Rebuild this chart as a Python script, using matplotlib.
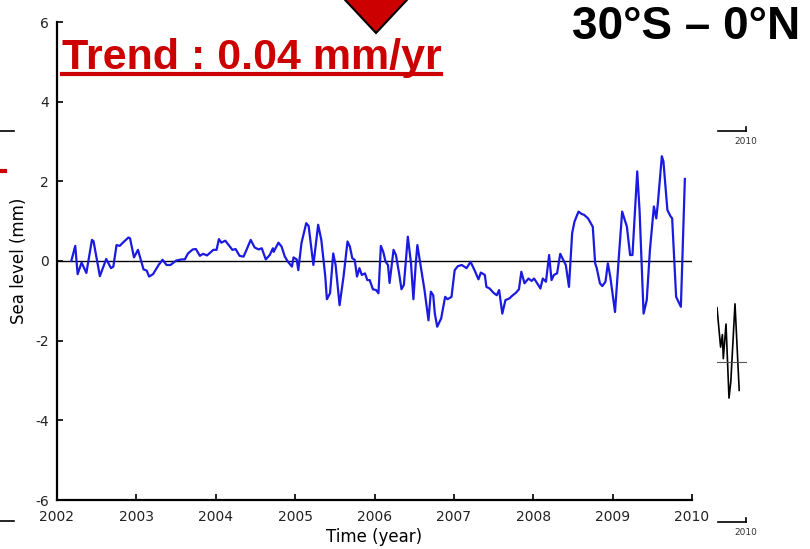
import numpy as np
import matplotlib
matplotlib.use('Agg')
import matplotlib.pyplot as plt
from matplotlib.lines import Line2D
from matplotlib.patches import Polygon

plt.rcParams['axes.unicode_minus'] = False

# sea level anomaly, 30S - 0N
years = [2002.18, 2002.23, 2002.26, 2002.31, 2002.37, 2002.44, 2002.46, 2002.54, 2002.62, 2002.68,
         2002.71, 2002.75, 2002.79, 2002.83, 2002.90, 2002.92, 2002.97, 2003.02, 2003.09, 2003.13,
         2003.16, 2003.21, 2003.28, 2003.33, 2003.38, 2003.43, 2003.50, 2003.57, 2003.61, 2003.65,
         2003.71, 2003.75, 2003.80, 2003.84, 2003.89, 2003.97, 2004.01, 2004.04, 2004.07, 2004.12,
         2004.21, 2004.25, 2004.30, 2004.35, 2004.39, 2004.44, 2004.49, 2004.54, 2004.58, 2004.63,
         2004.68, 2004.72, 2004.73, 2004.79, 2004.83, 2004.87, 2004.91, 2004.96, 2004.98, 2005.02,
         2005.04, 2005.08, 2005.14, 2005.17, 2005.23, 2005.29, 2005.33, 2005.38, 2005.40, 2005.44,
         2005.48, 2005.51, 2005.56, 2005.61, 2005.66, 2005.69, 2005.72, 2005.75, 2005.78, 2005.81,
         2005.84, 2005.88, 2005.91, 2005.94, 2005.98, 2006.02, 2006.05, 2006.08, 2006.11, 2006.14,
         2006.17, 2006.19, 2006.24, 2006.27, 2006.31, 2006.34, 2006.37, 2006.42, 2006.46, 2006.49,
         2006.52, 2006.54, 2006.59, 2006.63, 2006.68, 2006.71, 2006.74, 2006.76, 2006.79, 2006.84,
         2006.89, 2006.92, 2006.97, 2007.01, 2007.05, 2007.10, 2007.16, 2007.21, 2007.26, 2007.31,
         2007.34, 2007.39, 2007.41, 2007.45, 2007.50, 2007.54, 2007.57, 2007.61, 2007.65, 2007.70,
         2007.73, 2007.78, 2007.82, 2007.85, 2007.89, 2007.94, 2007.98, 2008.01, 2008.05, 2008.09,
         2008.12, 2008.16, 2008.20, 2008.23, 2008.26, 2008.30, 2008.34, 2008.39, 2008.41, 2008.45,
         2008.49, 2008.52, 2008.57, 2008.61, 2008.64, 2008.69, 2008.75, 2008.78, 2008.80, 2008.84,
         2008.87, 2008.91, 2008.94, 2008.97, 2009.03, 2009.08, 2009.12, 2009.18, 2009.22, 2009.25,
         2009.31, 2009.34, 2009.39, 2009.43, 2009.47, 2009.52, 2009.55, 2009.57, 2009.62, 2009.64,
         2009.69, 2009.73, 2009.75, 2009.80, 2009.86, 2009.91]
sea_level = [0.00, 0.38, -0.33, -0.04, -0.30, 0.53, 0.50, -0.38, 0.05, -0.18,
             -0.14, 0.40, 0.38, 0.46, 0.59, 0.57, 0.09, 0.28, -0.21, -0.24,
             -0.39, -0.33, -0.10, 0.03, -0.10, -0.10, 0.01, 0.04, 0.04, 0.19,
             0.29, 0.30, 0.13, 0.18, 0.14, 0.28, 0.28, 0.55, 0.46, 0.51,
             0.28, 0.30, 0.13, 0.11, 0.29, 0.53, 0.34, 0.29, 0.32, 0.04,
             0.15, 0.32, 0.23, 0.46, 0.36, 0.11, -0.02, -0.14, 0.09, 0.04,
             -0.23, 0.45, 0.95, 0.88, -0.10, 0.91, 0.53, -0.39, -0.96, -0.81,
             0.19, -0.10, -1.11, -0.39, 0.49, 0.36, 0.07, 0.03, -0.39, -0.18,
             -0.35, -0.31, -0.48, -0.48, -0.71, -0.73, -0.81, 0.38, 0.23, -0.02,
             -0.10, -0.55, 0.28, 0.15, -0.31, -0.71, -0.60, 0.61, -0.06, -0.96,
             -0.06, 0.40, -0.23, -0.73, -1.49, -0.77, -0.86, -1.32, -1.65, -1.44,
             -0.90, -0.96, -0.90, -0.23, -0.13, -0.10, -0.18, -0.02, -0.23, -0.46,
             -0.29, -0.35, -0.65, -0.69, -0.80, -0.86, -0.73, -1.32, -0.98, -0.94,
             -0.88, -0.80, -0.71, -0.27, -0.56, -0.44, -0.50, -0.44, -0.56, -0.69,
             -0.44, -0.52, 0.15, -0.48, -0.35, -0.31, 0.18, -0.02, -0.10, -0.65,
             0.70, 0.99, 1.24, 1.18, 1.16, 1.07, 0.86, -0.06, -0.18, -0.56,
             -0.63, -0.52, -0.06, -0.39, -1.28, 0.15, 1.24, 0.86, 0.15, 0.15,
             2.25, 1.24, -1.32, -0.98, 0.28, 1.37, 1.07, 1.45, 2.63, 2.50,
             1.28, 1.12, 1.07, -0.90, -1.15, 2.06]

xticks = [2002, 2003, 2004, 2005, 2006, 2007, 2008, 2009, 2010]
yticks = [-6, -4, -2, 0, 2, 4, 6]

# bit of the neighbouring panel visible on the right edge
frag_x = [0.0, 0.12, 0.18, 0.21, 0.30, 0.40, 0.46, 0.60, 0.74]
frag_y = [0.94, 0.53, 0.66, 0.41, 0.77, 0.00, 0.17, 0.98, 0.08]

W, H = 810, 549
fig = plt.figure(figsize=(W / 100, H / 100), dpi=100)
narrow = ['Liberation Sans Narrow', 'Liberation Sans']

ax = fig.add_axes([57 / W, 1 - 500 / H, 635 / W, 478 / H])
ax.plot(years, sea_level, color='#1a1ae0', lw=1.6, zorder=3)
ax.axhline(0, color='black', lw=1.0, zorder=2)
ax.set_xlim(2002, 2010)
ax.set_ylim(-6, 6)
ax.set_xticks(xticks)
ax.set_yticks(yticks)
for s in ['top', 'right']:
    ax.spines[s].set_visible(False)
for s in ['left', 'bottom']:
    ax.spines[s].set_linewidth(1.6)
ax.tick_params(direction='in', length=4, width=1.4, labelsize=10, colors='#222222')
ax.tick_params(axis='x', pad=7)
ax.tick_params(axis='y', pad=6)
ax.set_xlabel('Time (year)', fontsize=12, labelpad=3)
ax.set_ylabel('Sea level (mm)', fontsize=12, labelpad=5)

# annotations from the slide
fig.text(62 / W, 1 - 69 / H, 'Trend : 0.04 mm/yr', color='#cc0000', fontsize=31,
         fontweight='bold', family=narrow, ha='left', va='baseline')
fig.add_artist(Line2D([62 / W, 441 / W], [1 - 74 / H, 1 - 74 / H], color='#cc0000', lw=3))
fig.text(800 / W, 1 - 27 / H, '30°S – 0°N', color='black', fontsize=33,
         fontweight='bold', family=narrow, ha='right', va='center')
tri = Polygon([(340 / W, 1.01), (412 / W, 1.01), (376 / W, 1 - 33 / H)], closed=True,
              facecolor='#cc0000', edgecolor='black', lw=1.5, transform=fig.transFigure)
fig.add_artist(tri)

# right edge fragments
ax2 = fig.add_axes([717 / W, 1 - 400 / H, 30 / W, 100 / H])
ax2.plot(frag_x, frag_y, color='black', lw=1.2)
ax2.axhline(0.37, color='#555555', lw=0.8)
ax2.set_xlim(0, 1)
ax2.set_ylim(-0.02, 1.02)
ax2.axis('off')
for yy in [131, 522]:
    fig.add_artist(Line2D([718 / W, 746 / W], [1 - yy / H, 1 - yy / H], color='black', lw=1.2))
    fig.add_artist(Line2D([746 / W, 746 / W], [1 - yy / H, 1 - (yy - 4) / H], color='black', lw=1.2))
    fig.text(746 / W, 1 - (yy + 13) / H, '2010', fontsize=6.5, color='#333333', ha='center')

# left edge fragments
fig.add_artist(Line2D([0, 14 / W], [1 - 131 / H, 1 - 131 / H], color='black', lw=1.2))
fig.add_artist(Line2D([0, 5 / W], [1 - 171 / H, 1 - 171 / H], color='#cc0000', lw=3))
fig.add_artist(Line2D([0, 14 / W], [1 - 521 / H, 1 - 521 / H], color='black', lw=1.2))

fig.savefig('out.png', dpi=100)
